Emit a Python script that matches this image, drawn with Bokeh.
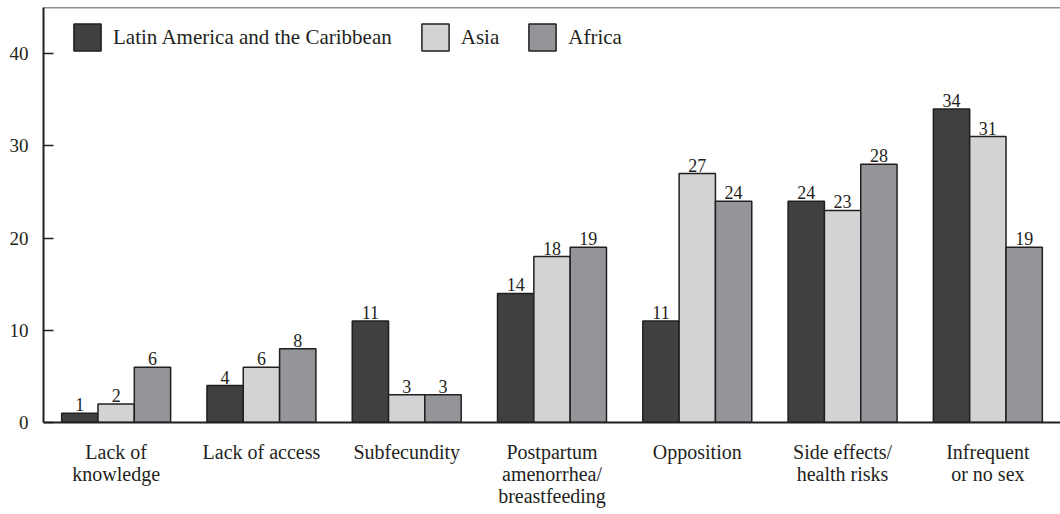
from bokeh.plotting import figure
from bokeh.models import ColumnDataSource, FactorRange, Range1d, Span, Legend, LegendItem, FixedTicker, LabelSet
from bokeh.transform import dodge
from bokeh.core.properties import value
from bokeh.embed import file_html
from bokeh.resources import INLINE

categories = ["Lack of\nknowledge", "Lack of access", "Subfecundity",
              "Postpartum\namenorrhea/\nbreastfeeding", "Opposition",
              "Side effects/\nhealth risks", "Infrequent\nor no sex"]
latin_america = [1, 4, 11, 14, 11, 24, 34]
asia = [2, 6, 3, 18, 27, 23, 31]
africa = [6, 8, 3, 19, 24, 28, 19]
series_names = ["Latin America and the Caribbean", "Asia", "Africa"]
y_ticks = [0, 10, 20, 30, 40]

colors = ["#404041", "#d1d3d4", "#939598"]
ink = "#231f20"
font = "Liberation Serif"

src = ColumnDataSource(dict(cat=categories, lac=latin_america, asia=asia, africa=africa,
                            lac_t=[str(v) for v in latin_america],
                            asia_t=[str(v) for v in asia],
                            africa_t=[str(v) for v in africa]))

p = figure(width=1060, height=512, x_range=FactorRange(factors=categories, range_padding=0),
           y_range=Range1d(0, 45), output_backend="svg", toolbar_location=None,
           min_border_left=43, min_border_right=0, min_border_top=7, min_border_bottom=90)
p.outline_line_color = None
p.grid.visible = False
p.background_fill_color = "white"

fields = ["lac", "asia", "africa"]
offsets = [-0.25, 0.0, 0.25]
items = []
for f, off, c, name in zip(fields, offsets, colors, series_names):
    r = p.vbar(x=dodge("cat", off, range=p.x_range), top=f, width=0.25, source=src,
               fill_color=c, line_color=ink, line_width=1.5)
    items.append(LegendItem(label=name, renderers=[r]))
    lbl = LabelSet(x=dodge("cat", off, range=p.x_range), y=f, text=f + "_t", source=src,
                   text_align="center", text_baseline="bottom", y_offset=2,
                   text_font=value(font), text_font_size="18px", text_color=ink)
    p.add_layout(lbl)

legend = Legend(items=items, orientation="horizontal", location=(27, 368),
                border_line_color=None, background_fill_alpha=0, padding=0, margin=0,
                spacing=26, label_standoff=9, glyph_width=34, glyph_height=34,
                label_text_font=font, label_text_font_size="21px", label_text_color=ink)
p.add_layout(legend)

p.add_layout(Span(location=45, dimension="width", line_color=ink, line_width=1.5))

p.yaxis.ticker = FixedTicker(ticks=y_ticks)
p.yaxis.minor_tick_line_color = None
p.yaxis.major_tick_in = 10
p.yaxis.major_tick_out = 0
p.yaxis.major_label_standoff = 15
p.yaxis.axis_line_width = 2
p.xaxis.axis_line_width = 2
for ax in [p.xaxis, p.yaxis]:
    ax.axis_line_color = ink
    ax.major_tick_line_color = ink
    ax.major_tick_line_width = 1.5
    ax.major_label_text_font = font
    ax.major_label_text_color = ink
p.yaxis.major_label_text_font_size = "19px"
p.xaxis.major_label_text_font_size = "20px"
p.xaxis.major_label_text_line_height = 1.0
p.xaxis.major_tick_line_color = None
p.xaxis.major_tick_out = 0
p.xaxis.major_tick_in = 0
p.xaxis.major_label_standoff = 18

open("out.html", "w").write(file_html(p, INLINE))
